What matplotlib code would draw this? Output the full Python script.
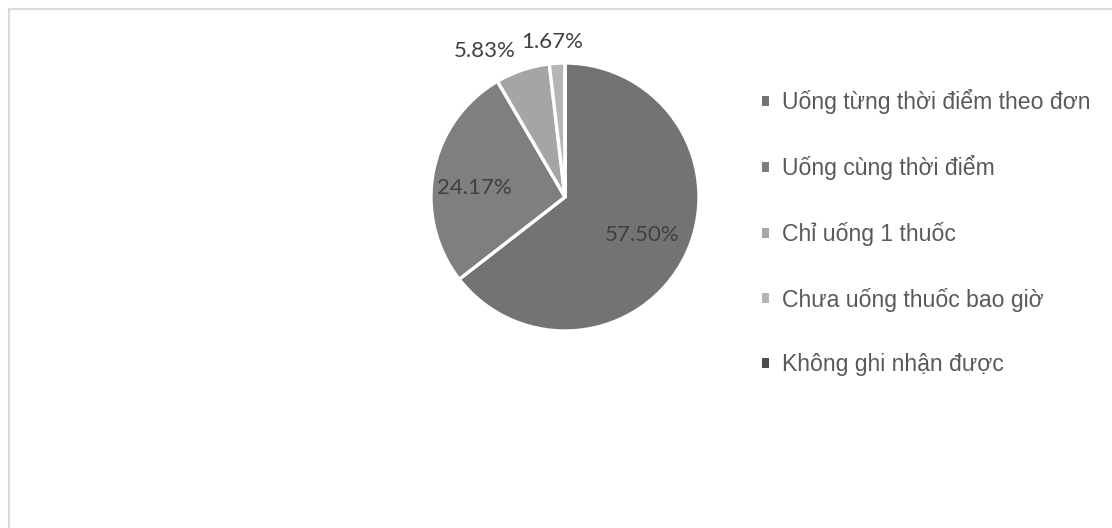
import matplotlib
matplotlib.use('Agg')
import matplotlib.pyplot as plt
from matplotlib.patches import Rectangle, Patch
import numpy as np

categories = ["Uống từng thời điểm theo đơn", "Uống cùng thời điểm", "Chỉ uống 1 thuốc",
              "Chưa uống thuốc bao giờ", "Không ghi nhận được"]
values = [57.50, 24.17, 5.83, 1.67, 0.0]
colors = ['#737373', '#7f7f7f', '#a5a5a5', '#b5b5b5', '#4d4d4d']

W, H = 1112, 528
fig = plt.figure(figsize=(W / 100, H / 100), dpi=100)
ax = fig.add_axes([0, 0, 1, 1])

cx, cy, r = 565, H - 197, 134
wedges, _ = ax.pie(values, colors=colors, startangle=90, counterclock=False,
                   center=(cx, cy), radius=r,
                   wedgeprops=dict(edgecolor='white', linewidth=2.4))
ax.set_xlim(0, W)
ax.set_ylim(0, H)
ax.set_aspect('equal')
ax.axis('off')

# data labels: (radial factor, angle offset in degrees, horizontal alignment)
label_style = [(0.64, 0.0, 'center'), (0.68, 5.5, 'center'),
               (1.15, 0.0, 'right'), (1.16, 1.5, 'center'), (1.0, 0.0, 'center')]
for w, v, (dist, dang, ha) in zip(wedges, values, label_style):
    if v <= 0:
        continue
    ang = np.deg2rad((w.theta1 + w.theta2) / 2 + dang)
    x = cx + dist * r * np.cos(ang)
    y = cy + dist * r * np.sin(ang)
    ax.text(x, y, f"{v:.2f}%", ha=ha, va='center', fontsize=16,
            family=['Lato', 'DejaVu Sans'], color='#404040')

handles = [Patch(facecolor=c, edgecolor='none') for c in colors]
ax.legend(handles, categories, loc='upper left',
          bbox_to_anchor=(762 / W, (H - 89) / H), bbox_transform=fig.transFigure,
          frameon=False, borderpad=0, borderaxespad=0,
          prop=dict(family=['Liberation Sans', 'DejaVu Sans'], size=16.6),
          labelcolor='#595959', handlelength=0.31, handleheight=0.31,
          handletextpad=0.56, labelspacing=1.80)

# chart border
ax.add_patch(Rectangle((8.5, -10), W + 20, H - 8.5 + 10, fill=False,
                       edgecolor='#d9d9d9', linewidth=1.5, clip_on=False))

fig.savefig('out.png', dpi=100)
